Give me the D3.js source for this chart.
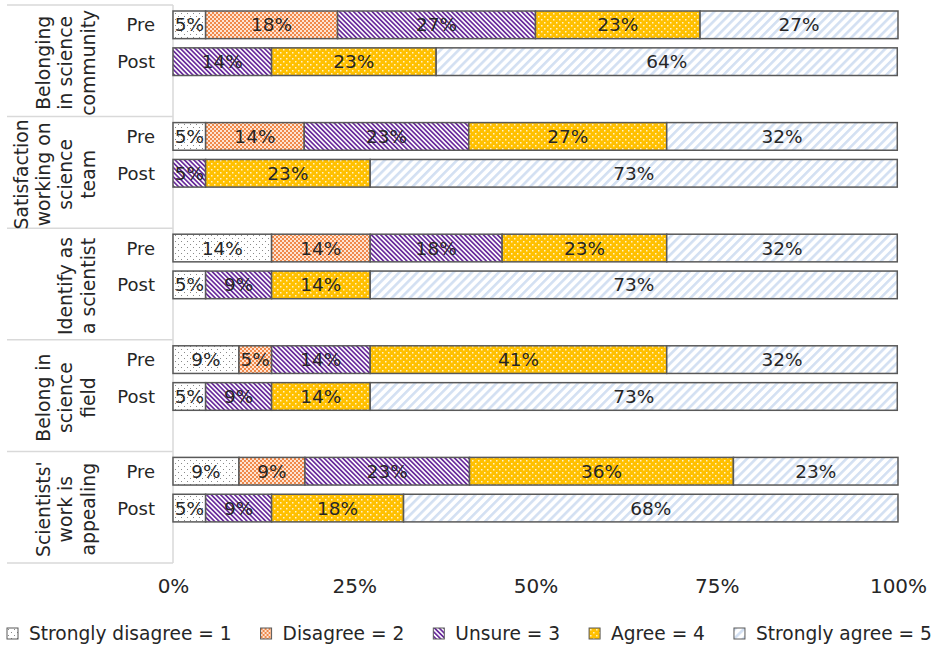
<!DOCTYPE html>
<html>
    <head>
        <script src="https://d3js.org/d3.v7.min.js"></script>
        <style>
            body{margin:0;background:#fff;}
            text{font-family:"DejaVu Sans", Verdana, sans-serif;fill:#262626;}
        </style>
    </head>
    <body>
        <svg height="648" width="935" id="chart"></svg>
        <script>
            // data (percent of respondents, n = 22)
            const categories=["Belonging in science community","Satisfaction working on science team","Identify as a scientist","Belong in science field","Scientists' work is appealing"];
            const categoryLines=[["Belonging","in science","community"],["Satisfaction","working on","science","team"],["Identify as","a scientist"],["Belong in","science","field"],["Scientists'","work is","appealing"]];
            const phases=["Pre","Post"];
            const responses=["Strongly disagree = 1","Disagree = 2","Unsure = 3","Agree = 4","Strongly agree = 5"];
            // one value per row: group1 Pre, group1 Post, group2 Pre, ...
            const stronglyDisagree=[4.5, 0, 4.5, 0, 13.6, 4.5, 9.1, 4.5, 9.1, 4.5];
            const disagree=[18.2, 0, 13.6, 0, 13.6, 0, 4.5, 0, 9.1, 0];
            const unsure=[27.3, 13.6, 22.7, 4.5, 18.2, 9.1, 13.6, 9.1, 22.7, 9.1];
            const agree=[22.7, 22.7, 27.3, 22.7, 22.7, 13.6, 40.9, 13.6, 36.4, 18.2];
            const stronglyAgree=[27.3, 63.6, 31.8, 72.7, 31.8, 72.7, 31.8, 72.7, 22.7, 68.2];
            const xTicks=[0,25,50,75,100];

            let svg=d3.select("#chart");
            let series=[stronglyDisagree,disagree,unsure,agree,stronglyAgree];

            let rows=[];
            categories.forEach((c,gi)=>{
                phases.forEach((p,pi)=>{
                    let idx=gi*2+pi;
                    let row={category:c, phase:p};
                    responses.forEach((r,ri)=>row[r]=series[ri][idx]);
                    rows.push(row);
                });
            });

            let stacked=d3.stack().keys(responses)(rows);

            let x=d3.scaleLinear().domain([0,100]).range([173,898]);
            let yGroup=d3.scaleBand().domain(categories).range([5,563]);
            let yPhase=d3.scaleBand().domain(phases).range([6,70.5]).paddingInner(0.25);

            // fill patterns
            let defs=svg.append("defs");
            let p0=defs.append("pattern").attr("id","pat0").attr("patternUnits","userSpaceOnUse")
                .attr("width",6).attr("height",6);
            p0.append("rect").attr("width",6).attr("height",6).attr("fill","#fff");
            p0.append("rect").attr("x",1).attr("y",1).attr("width",1).attr("height",1).attr("fill","#8a8a8a");
            p0.append("rect").attr("x",4).attr("y",4).attr("width",1).attr("height",1).attr("fill","#8a8a8a");

            let p1=defs.append("pattern").attr("id","pat1").attr("patternUnits","userSpaceOnUse")
                .attr("width",4).attr("height",4);
            p1.append("rect").attr("width",4).attr("height",4).attr("fill","#fde3d2");
            p1.append("rect").attr("width",2).attr("height",2).attr("fill","#f0894a");
            p1.append("rect").attr("x",2).attr("y",2).attr("width",2).attr("height",2).attr("fill","#f0894a");

            let p2=defs.append("pattern").attr("id","pat2").attr("patternUnits","userSpaceOnUse")
                .attr("width",3.3).attr("height",3.3).attr("patternTransform","rotate(-45)");
            p2.append("rect").attr("width",3.3).attr("height",3.3).attr("fill","#fff");
            p2.append("rect").attr("width",1.7).attr("height",3.3).attr("fill","#6a2c9c");

            let p3=defs.append("pattern").attr("id","pat3").attr("patternUnits","userSpaceOnUse")
                .attr("width",6).attr("height",6);
            p3.append("rect").attr("width",6).attr("height",6).attr("fill","#ffc000");
            p3.append("rect").attr("x",1).attr("y",1).attr("width",1.5).attr("height",1.5).attr("fill","#fff3cc");
            p3.append("rect").attr("x",4).attr("y",4).attr("width",1.5).attr("height",1.5).attr("fill","#fff3cc");

            let p4=defs.append("pattern").attr("id","pat4").attr("patternUnits","userSpaceOnUse")
                .attr("width",6.4).attr("height",6.4).attr("patternTransform","rotate(45)");
            p4.append("rect").attr("width",6.4).attr("height",6.4).attr("fill","#fff");
            p4.append("rect").attr("width",2.6).attr("height",6.4).attr("fill","#d3e0f2");

            let fills=responses.map((r,i)=>"url(#pat"+i+")");

            // left table lines
            let frame=svg.append("g").attr("class","frame");
            frame.append("line").attr("x1",x(0)).attr("x2",x(0))
                .attr("y1",yGroup.range()[0]).attr("y2",yGroup.range()[1])
                .style("stroke","#d9d9d9").style("stroke-width",1.5);
            frame.selectAll("line.sep").data(categories.concat(["end"]))
                .join("line")
                .attr("class","sep")
                .attr("x1",7).attr("x2",x(0))
                .attr("y1",(d,i)=>i<categories.length?yGroup(d):yGroup.range()[1])
                .attr("y2",(d,i)=>i<categories.length?yGroup(d):yGroup.range()[1])
                .style("stroke","#d9d9d9").style("stroke-width",1.5);

            // bars
            let rowY=d=>yGroup(d.data.category)+yPhase(d.data.phase);
            let layers=svg.append("g").selectAll("g.layer").data(stacked)
                .join("g")
                .attr("class","layer")
                .attr("fill",(d,i)=>fills[i]);
            layers.selectAll("rect").data(d=>d.filter(s=>s[1]-s[0]>0))
                .join("rect")
                .attr("x",d=>x(d[0]))
                .attr("width",d=>x(d[1])-x(d[0]))
                .attr("y",rowY)
                .attr("height",yPhase.bandwidth())
                .style("stroke","#595959")
                .style("stroke-width",1.5);
            layers.selectAll("text").data(d=>d.filter(s=>s[1]-s[0]>0))
                .join("text")
                .attr("x",d=>(x(d[0])+x(d[1]))/2)
                .attr("y",d=>rowY(d)+yPhase.bandwidth()/2)
                .attr("text-anchor","middle")
                .attr("dominant-baseline","central")
                .style("font-size","18.5px")
                .text(d=>Math.round(d[1]-d[0])+"%");

            // phase labels
            svg.append("g").selectAll("text").data(rows)
                .join("text")
                .attr("x",155)
                .attr("y",d=>yGroup(d.category)+yPhase(d.phase)+yPhase.bandwidth()/2)
                .attr("text-anchor","end")
                .attr("dominant-baseline","central")
                .style("font-size","18px")
                .text(d=>d.phase);

            // category labels (rotated, multi-line)
            let catLabels=svg.append("g").selectAll("text").data(categories)
                .join("text")
                .attr("transform",d=>"translate(88,"+(yGroup(d)+yGroup.bandwidth()/2+2)+") rotate(-90)")
                .attr("text-anchor","middle")
                .style("font-size","18.8px");
            catLabels.selectAll("tspan").data((d,i)=>categoryLines[i].map((l,j,a)=>({line:l, off:j-(a.length-1)})))
                .join("tspan")
                .attr("x",0)
                .attr("y",d=>d.off*22.3)
                .attr("dominant-baseline","central")
                .text(d=>d.line);

            // x axis
            let xAxis=svg.append("g")
                .attr("transform","translate(0,563)")
                .call(d3.axisBottom(x).tickValues(xTicks).tickSize(0).tickPadding(16).tickFormat(d=>d+"%"));
            xAxis.select(".domain").remove();
            xAxis.selectAll("text").style("font-size","20px").style("font-family","DejaVu Sans, Verdana, sans-serif").attr("fill","#262626");

            // legend
            let legend=svg.append("g").attr("transform","translate(7,628)");
            let lx=0;
            responses.forEach((r,i)=>{
                let item=legend.append("g").attr("transform","translate("+lx+",0)");
                item.append("rect").attr("width",11).attr("height",11)
                    .attr("fill",fills[i]).style("stroke","#595959").style("stroke-width",1);
                let t=item.append("text").attr("x",22).attr("y",5.5)
                    .attr("dominant-baseline","central")
                    .style("font-size","18.6px")
                    .text(r);
                lx+=22+t.node().getComputedTextLength()+29;
            });
        </script>
    </body>
</html>
